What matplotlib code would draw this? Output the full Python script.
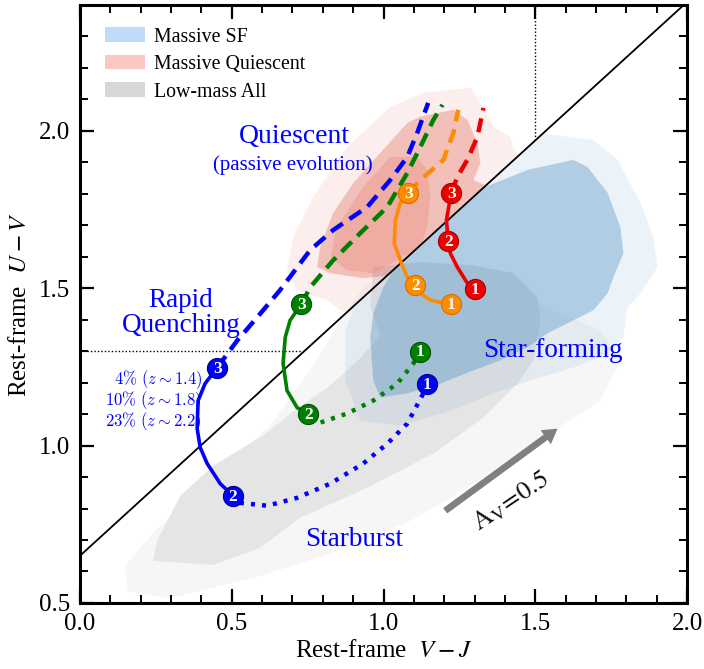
import numpy as np
import matplotlib
matplotlib.use("Agg")
import matplotlib.pyplot as plt
from matplotlib.patches import Polygon, Patch
from matplotlib.ticker import MultipleLocator

plt.rcParams["font.family"] = "Liberation Serif"
plt.rcParams["mathtext.fontset"] = "stix"

# UVJ selection box: U-V = slope*(V-J) + intercept, U-V > 1.3, V-J < 1.5
uvj_slope = 0.88
uvj_intercept = 0.65
uvj_uv_min = 1.3
uvj_vj_max = 1.5

# density contours (outlines in V-J, U-V)
grey_outer = [(0.158, 0.538), (0.297, 0.516), (0.593, 0.586), (0.857, 0.666), (1.088, 0.761),
              (1.276, 0.866), (1.494, 1.006), (1.714, 1.143), (1.780, 1.270), (1.715, 1.366),
              (1.517, 1.446), (1.253, 1.510), (1.055, 1.551), (0.940, 1.510), (0.857, 1.398),
              (0.758, 1.239), (0.626, 1.064), (0.429, 0.889), (0.247, 0.729), (0.148, 0.618)]
grey_mid = [(0.241, 0.634), (0.438, 0.621), (0.593, 0.675), (0.725, 0.771), (0.946, 0.866),
            (1.164, 0.975), (1.329, 1.089), (1.441, 1.197), (1.494, 1.271), (1.517, 1.398),
            (1.507, 1.471), (1.428, 1.548), (1.296, 1.573), (1.121, 1.583), (0.966, 1.567),
            (0.956, 1.443), (0.989, 1.350), (0.923, 1.277), (0.824, 1.191), (0.715, 1.118),
            (0.603, 1.032), (0.439, 0.936), (0.330, 0.840), (0.254, 0.697)]
sf_outer = [(1.559, 1.987), (1.691, 1.971), (1.771, 1.908), (1.846, 1.771), (1.889, 1.662),
            (1.902, 1.567), (1.846, 1.484), (1.803, 1.439), (1.790, 1.344), (1.738, 1.293),
            (1.625, 1.248), (1.517, 1.217), (1.385, 1.175), (1.220, 1.111), (1.055, 1.064),
            (0.923, 1.080), (0.874, 1.207), (0.874, 1.366), (1.000, 1.700), (1.300, 2.000)]
sf_mid = [(1.474, 1.876), (1.625, 1.908), (1.672, 1.885), (1.738, 1.803), (1.780, 1.694),
          (1.790, 1.611), (1.757, 1.535), (1.738, 1.484), (1.691, 1.430), (1.625, 1.398),
          (1.540, 1.357), (1.474, 1.312), (1.385, 1.271), (1.296, 1.239), (1.187, 1.197),
          (1.078, 1.166), (0.989, 1.153), (0.966, 1.207), (0.956, 1.344), (0.966, 1.420),
          (0.999, 1.503), (1.150, 1.750), (1.330, 1.820)]
q_outer = [(1.022, 2.076), (1.131, 2.121), (1.286, 2.137), (1.319, 2.089), (1.362, 2.013),
           (1.418, 1.981), (1.428, 1.939), (1.517, 1.876), (1.100, 1.300), (0.857, 1.430),
           (0.814, 1.462), (0.715, 1.494), (0.682, 1.557), (0.702, 1.662), (0.768, 1.790),
           (0.880, 1.949)]
q_mid = [(1.078, 2.025), (1.121, 2.045), (1.230, 2.067), (1.276, 2.035), (1.309, 1.962),
         (1.319, 1.898), (1.296, 1.844), (1.400, 1.800), (1.065, 1.560), (1.022, 1.541),
         (0.933, 1.532), (0.824, 1.548), (0.781, 1.567), (0.791, 1.631), (0.834, 1.739),
         (0.900, 1.834), (0.989, 1.930)]
q_inner = [(1.022, 1.917), (1.111, 1.917), (1.144, 1.876), (1.154, 1.790), (1.144, 1.694),
           (1.121, 1.631), (0.966, 1.548), (0.880, 1.557), (0.824, 1.599), (0.847, 1.694),
           (0.933, 1.822)]

# evolutionary tracks: numbered points, then dotted / solid / dashed legs
blue_pts_x = [1.144, 0.504, 0.452]
blue_pts_y = [1.197, 0.841, 1.248]
blue_dot_x = [1.144, 1.131, 1.078, 1.012, 0.933, 0.824, 0.715, 0.617, 0.528, 0.504]
blue_dot_y = [1.197, 1.166, 1.070, 1.006, 0.943, 0.879, 0.834, 0.809, 0.818, 0.841]
blue_sol_x = [0.504, 0.462, 0.419, 0.396, 0.386, 0.389, 0.412, 0.452]
blue_sol_y = [0.841, 0.879, 0.943, 0.994, 1.054, 1.143, 1.197, 1.248]
blue_dash_x = [0.452, 0.518, 0.584, 0.659, 0.758, 0.834, 0.946, 1.022, 1.078, 1.111, 1.147]
blue_dash_y = [1.248, 1.334, 1.408, 1.494, 1.621, 1.685, 1.758, 1.844, 1.917, 1.994, 2.089]

green_pts_x = [1.121, 0.752, 0.729]
green_pts_y = [1.299, 1.099, 1.449]
green_dot_x = [1.121, 1.098, 1.045, 0.966, 0.880, 0.791, 0.752]
green_dot_y = [1.299, 1.261, 1.197, 1.143, 1.102, 1.073, 1.099]
green_sol_x = [0.752, 0.715, 0.682, 0.669, 0.676, 0.692, 0.729]
green_sol_y = [1.099, 1.121, 1.175, 1.261, 1.344, 1.398, 1.449]
green_dash_x = [0.729, 0.758, 0.834, 0.923, 1.012, 1.078, 1.121, 1.164, 1.194]
green_dash_y = [1.449, 1.503, 1.589, 1.675, 1.758, 1.866, 1.949, 2.035, 2.083]

orange_pts_x = [1.223, 1.105, 1.081]
orange_pts_y = [1.449, 1.510, 1.803]
orange_sol_x = [1.223, 1.154, 1.121, 1.105, 1.078, 1.055, 1.035, 1.039, 1.055, 1.081]
orange_sol_y = [1.449, 1.462, 1.484, 1.510, 1.535, 1.589, 1.643, 1.717, 1.771, 1.803]
orange_dash_x = [1.081, 1.121, 1.197, 1.230, 1.246]
orange_dash_y = [1.803, 1.844, 1.908, 1.994, 2.067]

red_pts_x = [1.302, 1.213, 1.223]
red_pts_y = [1.497, 1.650, 1.803]
red_sol_x = [1.302, 1.276, 1.243, 1.220, 1.213, 1.207, 1.223]
red_sol_y = [1.497, 1.516, 1.567, 1.611, 1.650, 1.717, 1.803]
red_dash_x = [1.223, 1.243, 1.276, 1.309, 1.329]
red_dash_y = [1.803, 1.854, 1.908, 1.981, 2.073]

frac_labels = [r"$4\%\ (z\sim1.4)$", r"$10\%\ (z\sim1.8)$", r"$23\%\ (z\sim2.2)$"]

# dust vector
av_start = (1.203, 0.793)
av_end = (1.573, 1.054)

fig = plt.figure(figsize=(7.04, 6.69), dpi=100)
ax = fig.add_axes([0.1136, 0.0987, 0.8625, 0.8938])
ax.set_xlim(0.0, 2.0)
ax.set_ylim(0.5, 2.4)

xx = np.array([-1.0, 3.0])
below = Polygon([(-1, -1), (3, -1), (3, uvj_slope * 3 + uvj_intercept),
                 (-1, -uvj_slope + uvj_intercept)], closed=True, transform=ax.transData)
above = Polygon([(-1, 5), (3, 5), (3, uvj_slope * 3 + uvj_intercept),
                 (-1, -uvj_slope + uvj_intercept)], closed=True, transform=ax.transData)

# low-mass galaxies
ax.add_patch(Polygon(grey_outer, closed=True, fc="#f6f6f6", ec="none", zorder=1))
ax.add_patch(Polygon(grey_mid, closed=True, fc="#e5e5e5", ec="none", zorder=1.1))

# massive star-forming, kept below the selection line
for pts, a in [(sf_outer, 0.10), (sf_mid, 0.36)]:
    p = Polygon(pts, closed=True, fc="#4a8bc2", ec="none", alpha=a, zorder=2)
    ax.add_patch(p)
    p.set_clip_path(below)

# massive quiescent, kept above it
for pts, a in [(q_outer, 0.10), (q_mid, 0.33), (q_inner, 0.20)]:
    p = Polygon(pts, closed=True, fc="#e0604f", ec="none", alpha=a, zorder=3)
    ax.add_patch(p)
    p.set_clip_path(above)

ax.plot(xx, uvj_slope * xx + uvj_intercept, color="k", lw=1.3, zorder=4)
x_cross = (uvj_uv_min - uvj_intercept) / uvj_slope
ax.plot([0, x_cross], [uvj_uv_min, uvj_uv_min], color="k", lw=1.0, ls=(0, (1, 1.5)), zorder=4)
ax.plot([uvj_vj_max, uvj_vj_max], [uvj_slope * uvj_vj_max + uvj_intercept, 2.4],
        color="k", lw=1.0, ls=(0, (1, 1.5)), zorder=4)

tracks = [
    ("#0000ff", "#00008b", blue_pts_x, blue_pts_y, (blue_dot_x, blue_dot_y),
     (blue_sol_x, blue_sol_y), (blue_dash_x, blue_dash_y)),
    ("#008000", "#005000", green_pts_x, green_pts_y, (green_dot_x, green_dot_y),
     (green_sol_x, green_sol_y), (green_dash_x, green_dash_y)),
    ("#ff8c00", "#d07000", orange_pts_x, orange_pts_y, None,
     (orange_sol_x, orange_sol_y), (orange_dash_x, orange_dash_y)),
    ("#ee0000", "#a00000", red_pts_x, red_pts_y, None,
     (red_sol_x, red_sol_y), (red_dash_x, red_dash_y)),
]
for col, edge, px, py, dot, sol, dash in tracks:
    if dot is not None:
        ax.plot(dot[0], dot[1], color=col, lw=3.2, ls=(0, (0.9, 1.6)), zorder=5)
    ax.plot(sol[0], sol[1], color=col, lw=2.6, solid_joinstyle="round", zorder=5)
    ax.plot(dash[0], dash[1], color=col, lw=3.2, ls=(0, (3.2, 1.8)), zorder=5)
    ax.plot(px, py, "o", ms=14.5, mfc=col, mec=edge, mew=0.8, zorder=6)
    for i, (x, y) in enumerate(zip(px, py)):
        ax.text(x, y - 0.003, str(i + 1), color="white", fontsize=12.5, fontweight="bold",
                ha="center", va="center", zorder=7)

# region labels
ax.text(0.705, 1.981, "Quiescent", color="blue", fontsize=20, ha="center", va="center")
ax.text(0.702, 1.892, "(passive evolution)", color="blue", fontsize=15, ha="center", va="center")
ax.text(0.333, 1.420, "Rapid\nQuenching", color="blue", fontsize=19.5, ha="center",
        va="center", linespacing=1.0)
ax.text(0.402, 1.143, "\n".join(frac_labels), color="blue", fontsize=12, ha="right",
        va="center", multialignment="right", linespacing=0.88, math_fontfamily="cm")
ax.text(1.556, 1.303, "Star-forming", color="blue", fontsize=19.5, ha="center", va="center")
ax.text(0.903, 0.701, "Starburst", color="blue", fontsize=19.5, ha="center", va="center")

ax.annotate("", xy=av_end, xytext=av_start, zorder=6,
            arrowprops=dict(facecolor="#808080", edgecolor="none", width=4.8,
                            headwidth=12.5, headlength=10.5, shrink=0))
ax.text(1.42, 0.822, r"$\mathrm{A_V\!=\!0.5}$", fontsize=19, rotation=34,
        ha="center", va="center", color="#111111")

handles = [Patch(fc="#bfdbf7", ec="none", label="Massive SF"),
           Patch(fc="#f9c8c2", ec="none", label="Massive Quiescent"),
           Patch(fc="#d7d7d7", ec="none", label="Low-mass All")]
ax.legend(handles=handles, loc="upper left", frameon=False, fontsize=14.3,
          handlelength=2.0, handleheight=0.75, handletextpad=0.45, labelspacing=0.42,
          borderaxespad=0.0, bbox_to_anchor=(0.028, 0.976))

ax.set_xlabel(r"Rest-frame  $V-J$", fontsize=18, labelpad=4)
ax.set_ylabel(r"Rest-frame  $U-V$", fontsize=18, labelpad=6)

ax.xaxis.set_major_locator(MultipleLocator(0.5))
ax.xaxis.set_minor_locator(MultipleLocator(0.1))
ax.yaxis.set_major_locator(MultipleLocator(0.5))
ax.yaxis.set_minor_locator(MultipleLocator(0.1))
ax.tick_params(which="both", direction="in", top=True, right=True, labelsize=18)
ax.tick_params(which="major", length=10, width=1.6, pad=7)
ax.tick_params(which="minor", length=6, width=1.4)
for s in ax.spines.values():
    s.set_linewidth(2.2)

fig.savefig("out.png", dpi=100)
